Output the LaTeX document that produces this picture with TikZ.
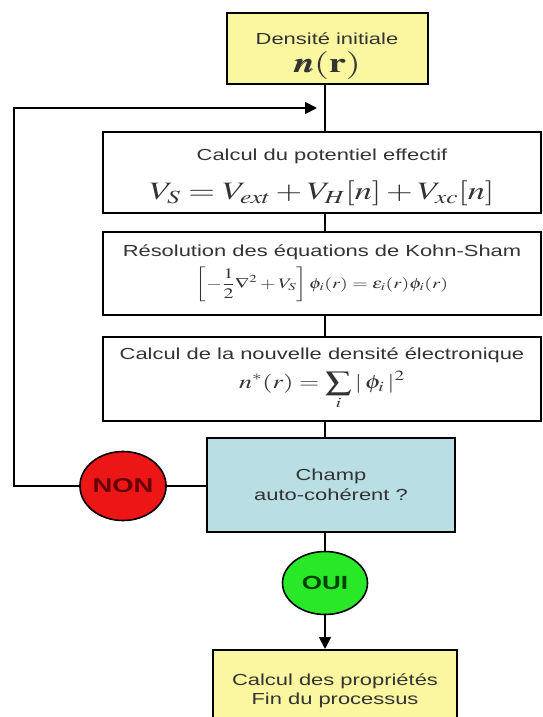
\documentclass[tikz,border=0pt]{standalone}
\usepackage{amsmath}
\usepackage[no-math]{fontspec}
\usepackage{mathptmx}
\usepackage{bm}
\setmainfont{Liberation Sans}
\usetikzlibrary{positioning, shapes.geometric, arrows.meta}

\definecolor{boxyellow}{RGB}{250,247,160}
\definecolor{boxcyan}{RGB}{185,222,228}
\definecolor{nonred}{RGB}{236,22,22}
\definecolor{ouigreen}{RGB}{40,232,40}

% the source picture is stretched sideways
\newcommand{\wide}[1]{\scalebox{1.37}[1]{#1}}

\begin{document}
\begin{tikzpicture}[
        x=1pt, y=-1pt,
        font=\fontsize{16}{19}\selectfont,
        block/.style={rectangle, draw, text=black!80, align=center,
          inner sep=2pt, line width=2pt},
        answer/.style={ellipse, draw, line width=1.6pt, inner sep=0pt},
        line/.style={draw, line width=1.8pt},
        arrowline/.style={draw, -{Triangle[length=12pt, width=12pt]}, line width=1.8pt}
      ]
      \useasboundingbox (0,0) rectangle (543,717);

      % Main chain
      \node [block, fill=boxyellow, minimum width=201pt, minimum height=71pt]
      (init) at (327, 48.5) {\rule{0pt}{27pt}\wide{Densité initiale}\\[6pt]
      \wide{\fontsize{28}{28}\selectfont $\bm{n}(\mathbf{r})$}};

      \node [block, fill=white, minimum width=438pt, minimum height=81pt]
      (pot) at (322, 172.5) {\rule{0pt}{22pt}\wide{Calcul du potentiel effectif}\\[16pt]
      \wide{\fontsize{25}{25}\selectfont $V_S = V_{ext} + V_H[n] + V_{xc}[n]$}};

      \node [block, fill=white, minimum width=438pt, minimum height=83pt]
      (ks) at (322, 273.5) {\wide{Résolution des équations de Kohn-Sham}\\[6pt]
      \wide{\fontsize{14.5}{14.5}\selectfont $\displaystyle\left[-\frac{1}{2}\nabla^2
      + V_S\right]\phi_i(r) = \varepsilon_i(r)\phi_i(r)$}};

      \node [block, fill=white, minimum width=438pt, minimum height=84pt]
      (dens) at (322, 379) {\wide{Calcul de la nouvelle densité électronique}\\[7pt]
      \wide{\fontsize{19}{19}\selectfont $\displaystyle n^{*}(r) = \sum_{i}|\,\phi_i\,|^2$}};

      \node [block, fill=boxcyan, minimum width=248pt, minimum height=94pt]
      (champ) at (331, 485) {\wide{Champ}\\[1pt]\wide{auto-cohérent ?}};

      % Answers
      \node [answer, fill=nonred, minimum width=83pt, minimum height=69pt]
      (non) at (123, 486) {\wide{\fontsize{20}{20}\selectfont\bfseries
      \color{red!40!black}NON}};
      \node [answer, fill=ouigreen, minimum width=85pt, minimum height=63pt]
      (oui) at (325, 583) {\wide{\fontsize{19}{19}\selectfont\bfseries
      \color{green!25!black}OUI}};

      \node [block, fill=boxyellow, minimum width=244pt, minimum height=82pt]
      (fin) at (335, 691) {\wide{Calcul des propriétés}\\\wide{Fin du processus}};

      % Spine and loop corners
      \coordinate (spine) at (325, 0);
      \coordinate (loopbot) at (14, 486);
      \coordinate (looptop) at (14, 108);
      \coordinate (loopin) at (317, 108);

      % Connectors
      \path [line] (spine |- init.south) -- (spine |- pot.north);
      \path [line] (spine |- pot.south) -- (spine |- ks.north);
      \path [line] (spine |- ks.south) -- (spine |- dens.north);
      \path [line] (spine |- dens.south) -- (spine |- champ.north);
      \path [line] (spine |- champ.south) -- (oui.north);
      \path [arrowline] (oui.south) -- (spine |- fin.north);

      \path [line] (non.east) -- (non.east -| champ.west);
      \path [arrowline] (non.west) -- (loopbot) -- (looptop) -- (loopin);

    \end{tikzpicture}
\end{document}
